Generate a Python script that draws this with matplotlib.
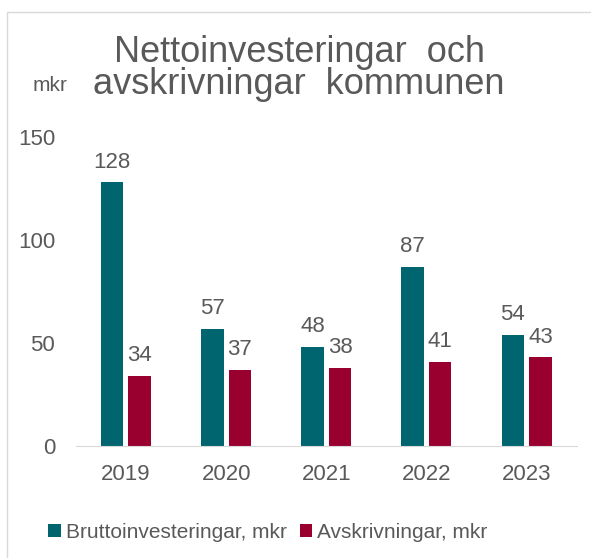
import matplotlib.pyplot as plt
import numpy as np
from matplotlib.patches import Rectangle

plt.rcParams['font.family'] = ['Liberation Sans', 'DejaVu Sans']

# värden i mkr
years = ['2019', '2020', '2021', '2022', '2023']
brutto = [128, 57, 48, 87, 54]
avskr = [34, 37, 38, 41, 43]

teal = '#00656f'
wine = '#990030'
grey = '#595959'

W, H = 591, 558
fig = plt.figure(figsize=(W / 100, H / 100), dpi=100)
ax = fig.add_axes([76 / W, 1 - 446 / H, 501 / W, 309 / H])

x = np.arange(len(years))
bw = 0.225
b1 = ax.bar(x - 0.14, brutto, bw, color=teal, label='Bruttoinvesteringar, mkr')
b2 = ax.bar(x + 0.135, avskr, bw, color=wine, label='Avskrivningar, mkr')

for bars in (b1, b2):
    for r in bars:
        h = r.get_height()
        ax.annotate(f'{h:.0f}', (r.get_x() + r.get_width() / 2, h),
                    xytext=(0, 7), textcoords='offset points',
                    ha='center', va='bottom', fontsize=16, color=grey)

ax.set_xlim(-0.5, len(years) - 0.5)
ax.set_ylim(0, 150)
ax.set_yticks([0, 50, 100, 150])
ax.set_xticks(x)
ax.set_xticklabels(years)
ax.tick_params(axis='both', length=0, labelsize=16, labelcolor=grey)
ax.tick_params(axis='y', pad=15)
ax.tick_params(axis='x', pad=13)
for s in ('top', 'right', 'left'):
    ax.spines[s].set_visible(False)
ax.spines['bottom'].set_color('#d9d9d9')

# rubrik på två rader
fig.text(299 / W, 1 - 62 / H, 'Nettoinvesteringar  och', ha='center', va='baseline',
         fontsize=26, color=grey)
fig.text(299 / W, 1 - 94 / H, 'avskrivningar  kommunen', ha='center', va='baseline',
         fontsize=26, color=grey)
fig.text(50 / W, 1 - 91 / H, 'mkr', ha='center', va='baseline', fontsize=15, color=grey)

fig.legend(loc='center', bbox_to_anchor=(268 / W, 1 - 532 / H), ncol=2, frameon=False,
           fontsize=15, labelcolor=grey, handlelength=0.6, handleheight=0.6,
           handletextpad=0.25, columnspacing=0.6)

# ram runt diagrammet
fig.patches.append(Rectangle((7 / W, -0.1), 1.2, 1 - 12 / H + 0.1, transform=fig.transFigure,
                             fill=False, edgecolor='#d9d9d9', linewidth=1))

fig.savefig('out.png', dpi=100)
